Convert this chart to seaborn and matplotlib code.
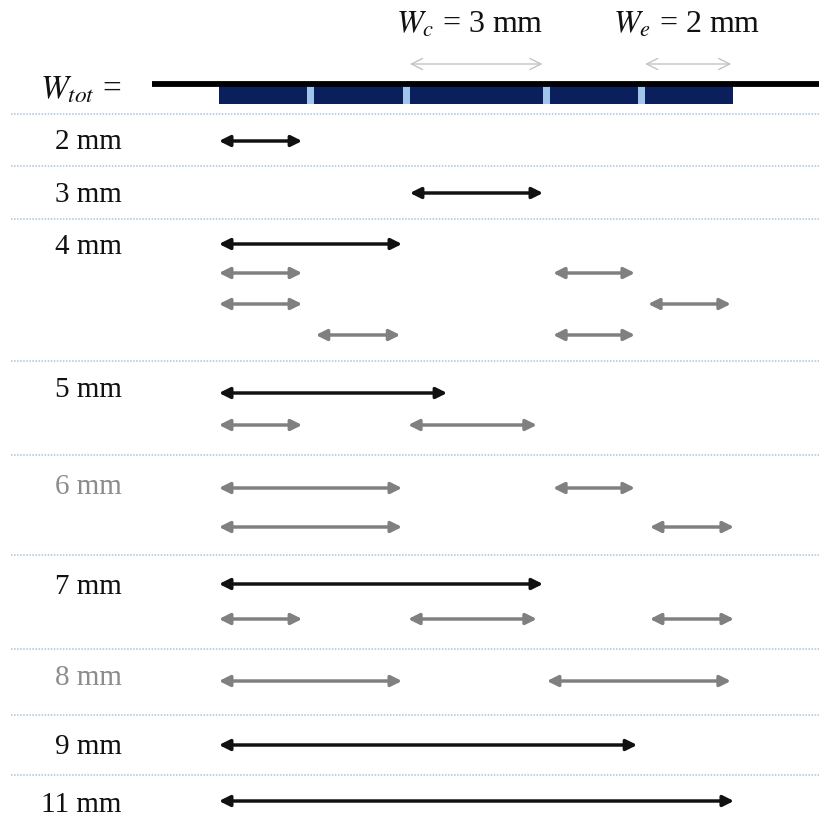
import numpy as np
import matplotlib.pyplot as plt
import seaborn as sns
from matplotlib.patches import Rectangle

# electrode strip (mm)
electrode_widths = [2, 2, 3, 2, 2]
gap_mm = 0.16

# rows of the diagram
row_labels = ["2 mm", "3 mm", "4 mm", "5 mm", "6 mm", "7 mm", "8 mm", "9 mm", "11 mm"]
row_feasible = [True, True, True, True, False, True, False, True, True]

# black arrow per row (start mm, end mm), None if absent
black_spans = [(0, 1.88), (4.32, 7.33), (0, 4.14), (0, 5.16), None,
               (0, 7.33), None, (0, 9.46), (0, 11.65)]

# gray arrows: per row a list of lines, each a list of (start mm, end mm)
gray_spans = [
    [],
    [],
    [[(0, 1.88), (7.56, 9.41)], [(0, 1.88), (9.71, 11.58)], [(2.19, 4.10), (7.56, 9.41)]],
    [[(0, 1.88), (4.28, 7.19)]],
    [[(0, 4.14), (7.56, 9.41)], [(0, 4.14), (9.75, 11.65)]],
    [[(0, 1.88), (4.28, 7.19), (9.75, 11.65)]],
    [[(0, 4.14), (7.42, 11.58)]],
    [],
    [],
]

# layout (pixel rows, top = 0)
label_y = [142, 195, 247, 390, 487, 587, 678, 747, 805]
line_y = [[142], [194], [245, 274, 305, 336], [394, 426], [489, 528],
          [585, 620], [682], [746], [802]]
sep_y = [115, 167, 220, 362, 456, 556, 650, 716, 776]
PX_PER_MM = 44.2
X0_PX = 219

sns.set_theme(style="white")
plt.rcParams['font.family'] = ['Liberation Serif', 'DejaVu Serif']
plt.rcParams['mathtext.fontset'] = 'stix'

fig = plt.figure(figsize=(8.19, 8.20), dpi=100)
ax = fig.add_axes([0, 0, 1, 1])
ax.set_xlim(-X0_PX / PX_PER_MM, (819 - X0_PX) / PX_PER_MM)
ax.set_ylim(820, 0)
ax.axis('off')

BLACK = '#111111'
GRAY = '#808080'
NAVY = '#0a1f5c'
LIGHT = '#9fc5ea'


def arrow(x0, x1, y, color, lw=2.5, style='<|-|>', ms=16):
    ax.annotate('', xy=(x1, y), xytext=(x0, y),
                arrowprops=dict(arrowstyle=style, color=color, lw=lw,
                                mutation_scale=ms, shrinkA=0, shrinkB=0))


# top: total width line and electrodes
ax.plot([-1.52, 20], [85, 85], color='#000000', lw=4.2, solid_capstyle='butt')
edges = []
pos = 0.0
for w in electrode_widths:
    edges.append((pos, pos + w))
    pos += w + gap_mm
ax.add_patch(Rectangle((0, 87), edges[-1][1], 18, color=NAVY, lw=0))
for (a, b), (c, d) in zip(edges[:-1], edges[1:]):
    ax.add_patch(Rectangle((b, 87), c - b, 18, color=LIGHT, lw=0))

ax.text(-2.2, 90, r"$W_{tot}$ =", ha='right', va='center', fontsize=24, color=BLACK)
arrow(edges[2][0], edges[2][1], 65, '#c4c4c4', lw=1.0, style='<->', ms=20)
arrow(edges[4][0], edges[4][1] - 0.05, 65, '#c4c4c4', lw=1.0, style='<->', ms=20)
ax.text(5.68, 25, r"$W_c$ = 3 mm", ha='center', va='center', fontsize=23, color=BLACK)
ax.text(10.57, 25, r"$W_e$ = 2 mm", ha='center', va='center', fontsize=23, color=BLACK)

# separators
for y in sep_y:
    ax.plot([-4.7, 20], [y, y], color='#a9c3dc', lw=1.1, ls=(0, (1, 1)))

# rows
for i, lab in enumerate(row_labels):
    ax.text(-2.2, label_y[i], lab, ha='right', va='center', fontsize=21,
            color=BLACK if row_feasible[i] else '#8c8c8c')
    ys = list(line_y[i])
    if black_spans[i] is not None:
        y = ys.pop(0)
        arrow(black_spans[i][0], black_spans[i][1], y, BLACK)
    for line, y in zip(gray_spans[i], ys):
        for x0, x1 in line:
            arrow(x0, x1, y, GRAY)

fig.savefig('out.png', dpi=100)
